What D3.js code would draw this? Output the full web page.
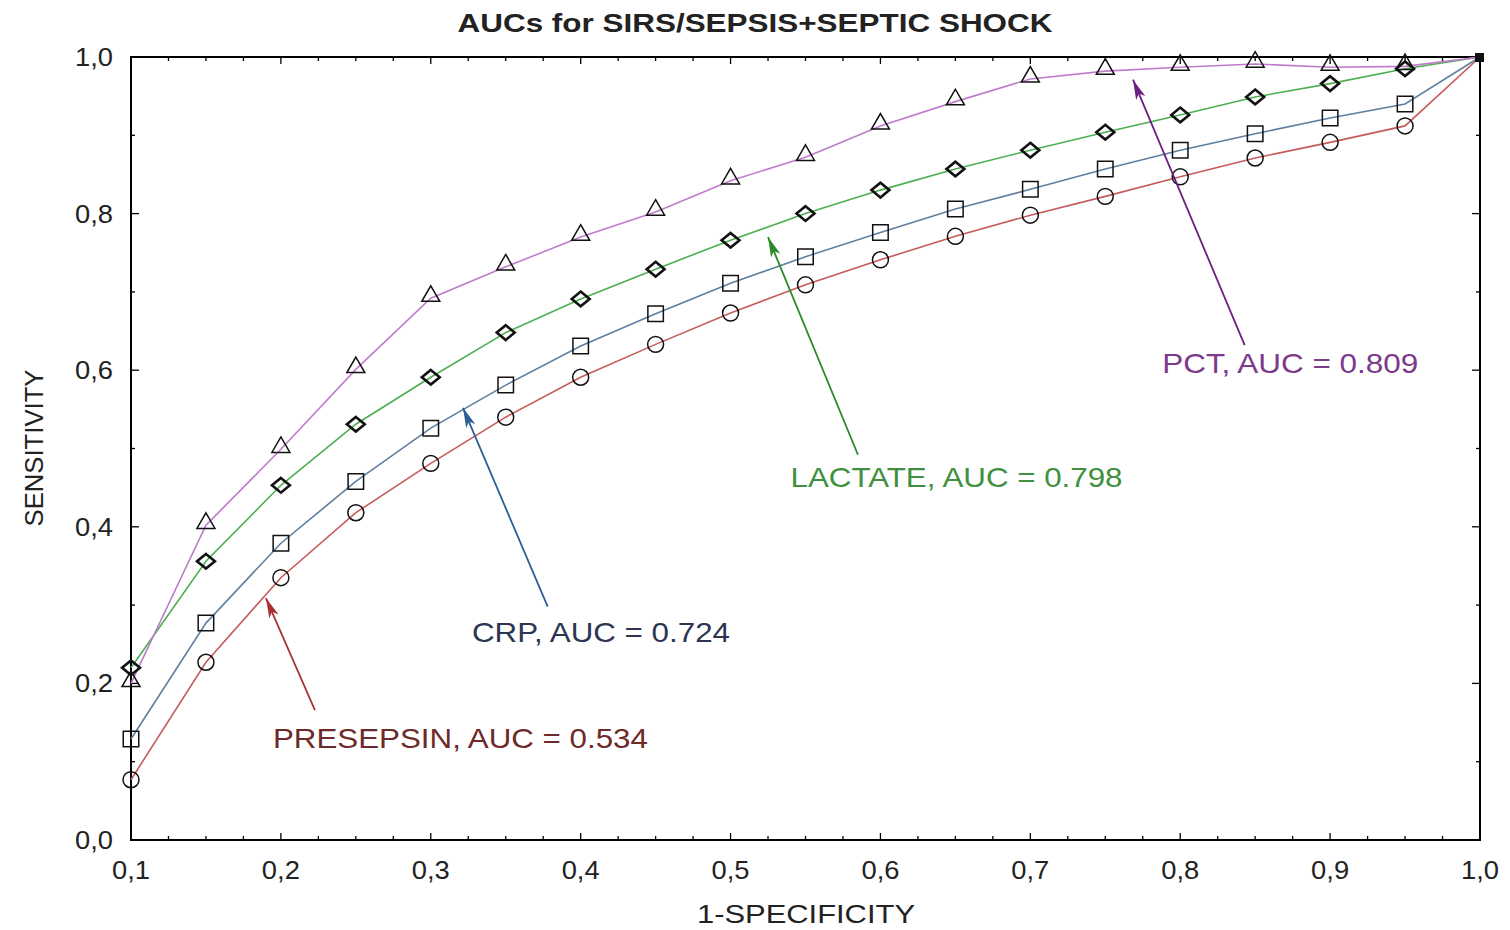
<!DOCTYPE html>
<html>
<head>
<meta charset="utf-8">
<script src="https://cdn.jsdelivr.net/npm/d3@7"></script>
<style>
  body { margin: 0; background: #fff; }
  text { font-family: Arial, "Liberation Sans", sans-serif; }
</style>
</head>
<body>
<div id="chart"></div>
<script>
// 1-specificity values (x)
var fpr = [0.1, 0.15, 0.2, 0.25, 0.3, 0.35, 0.4, 0.45, 0.5, 0.55, 0.6, 0.65, 0.7, 0.75, 0.8, 0.85, 0.9, 0.95, 1.0];

// sensitivity per marker (y)
var pct       = [0.200, 0.402, 0.499, 0.601, 0.692, 0.732, 0.770, 0.802, 0.842, 0.872, 0.912, 0.943, 0.972, 0.982, 0.987, 0.991, 0.987, 0.988, 1.0];
var lactate   = [0.220, 0.356, 0.453, 0.531, 0.591, 0.648, 0.691, 0.729, 0.766, 0.800, 0.830, 0.857, 0.881, 0.904, 0.926, 0.949, 0.966, 0.985, 1.0];
var crp       = [0.129, 0.277, 0.379, 0.458, 0.526, 0.581, 0.631, 0.672, 0.711, 0.745, 0.776, 0.806, 0.831, 0.857, 0.881, 0.902, 0.922, 0.940, 1.0];
var presepsin = [0.077, 0.227, 0.335, 0.418, 0.481, 0.540, 0.591, 0.633, 0.673, 0.709, 0.741, 0.771, 0.798, 0.822, 0.847, 0.871, 0.891, 0.912, 1.0];

var xTicks = [0.1, 0.2, 0.3, 0.4, 0.5, 0.6, 0.7, 0.8, 0.9, 1.0];
var yTicks = [0, 0.2, 0.4, 0.6, 0.8, 1.0];

// labels: text, label anchor [x,y], arrow tail [x,y], arrow tip [x,y] in data units
var labelText = ["PCT, AUC = 0.809", "LACTATE, AUC = 0.798", "CRP, AUC = 0.724", "PRESEPSIN, AUC = 0.534"];
var labelPos  = [[0.788, 0.596], [0.540, 0.451], [0.3275, 0.253], [0.1947, 0.1175]];
var arrowFrom = [[0.843, 0.632], [0.585, 0.492], [0.378, 0.298], [0.2227, 0.166]];
var arrowTo   = [[0.7685, 0.971], [0.525, 0.770], [0.3215, 0.552], [0.190, 0.309]];

var W = 1510, H = 930;
var margin = {top: 57, right: 30, bottom: 90, left: 131};

var x = d3.scaleLinear().domain([0.1, 1.0]).range([margin.left, 1480]);
var y = d3.scaleLinear().domain([0, 1]).range([840, margin.top]);

var svg = d3.select("#chart").append("svg")
    .attr("width", W)
    .attr("height", H);

// series setup
var series = [
  {name: "presepsin", values: presepsin, line: "#c55b5b", shape: "circle"},
  {name: "crp", values: crp, line: "#5f7f9f", shape: "square"},
  {name: "lactate", values: lactate, line: "#4caf50", shape: "diamond"},
  {name: "pct", values: pct, line: "#c07ccc", shape: "triangle"}
];
var labelColor = ["#7d3a8c", "#3f9140", "#2c3552", "#6e2a2a"];
var arrowColor = ["#6c2080", "#2a8a2a", "#2d5d96", "#a8302f"];
// the source picture is a bit stretched sideways, so texts get a fixed width
var labelWidth = [256, 332, 258, 375];

// frame
svg.append("rect")
    .attr("x", x(0.1)).attr("y", y(1))
    .attr("width", x(1) - x(0.1)).attr("height", y(0) - y(1))
    .attr("fill", "#fff").attr("stroke", "#000").attr("stroke-width", 2);

// inward ticks, all four sides
var xMinor = d3.range(0.1, 1.0001, 0.025);
var yMinor = d3.range(0, 1.0001, 0.1);
var tickG = svg.append("g").attr("stroke", "#000").attr("stroke-width", 1.3);
xMinor.forEach(function(v, i) {
  var len = (i % 4 === 0) ? 7 : 4;
  tickG.append("line").attr("x1", x(v)).attr("x2", x(v)).attr("y1", y(0)).attr("y2", y(0) - len);
  tickG.append("line").attr("x1", x(v)).attr("x2", x(v)).attr("y1", y(1)).attr("y2", y(1) + len);
});
yMinor.forEach(function(v, i) {
  var len = (i % 2 === 0) ? 8 : 4;
  tickG.append("line").attr("x1", x(0.1)).attr("x2", x(0.1) + len).attr("y1", y(v)).attr("y2", y(v));
  tickG.append("line").attr("x1", x(1)).attr("x2", x(1) - len).attr("y1", y(v)).attr("y2", y(v));
});

var fmt = function(v) { return d3.format(".1f")(v).replace(".", ","); };

// tick labels
svg.append("g").selectAll("text")
    .data(xTicks).enter().append("text")
    .attr("x", function(d) { return x(d); })
    .attr("y", 879)
    .attr("text-anchor", "middle")
    .attr("font-size", 26)
    .attr("textLength", 38).attr("lengthAdjust", "spacingAndGlyphs")
    .attr("fill", "#222")
    .text(fmt);

svg.append("g").selectAll("text")
    .data(yTicks).enter().append("text")
    .attr("x", 113)
    .attr("y", function(d) { return y(d) + 9; })
    .attr("text-anchor", "end")
    .attr("font-size", 26)
    .attr("textLength", 38).attr("lengthAdjust", "spacingAndGlyphs")
    .attr("fill", "#222")
    .text(fmt);

// title and axis titles
svg.append("text")
    .attr("x", 755).attr("y", 32)
    .attr("text-anchor", "middle")
    .attr("font-size", 26).attr("font-weight", "bold")
    .attr("textLength", 595).attr("lengthAdjust", "spacingAndGlyphs")
    .attr("fill", "#222")
    .text("AUCs for SIRS/SEPSIS+SEPTIC SHOCK");

svg.append("text")
    .attr("x", 806).attr("y", 923)
    .attr("text-anchor", "middle")
    .attr("font-size", 26)
    .attr("textLength", 218).attr("lengthAdjust", "spacingAndGlyphs")
    .attr("fill", "#222")
    .text("1-SPECIFICITY");

svg.append("text")
    .attr("transform", "translate(43,448) rotate(-90)")
    .attr("text-anchor", "middle")
    .attr("font-size", 26)
    .attr("textLength", 157).attr("lengthAdjust", "spacingAndGlyphs")
    .attr("fill", "#222")
    .text("SENSITIVITY");

// lines
var line = d3.line()
    .x(function(d, i) { return x(fpr[i]); })
    .y(function(d) { return y(d); });

series.forEach(function(s) {
  svg.append("path")
      .datum(s.values)
      .attr("fill", "none")
      .attr("stroke", s.line)
      .attr("stroke-width", 1.6)
      .attr("d", line);
});

// flatter diamond than d3's built-in one
var flatDiamond = {
  draw: function(ctx, size) {
    var w = Math.sqrt(size) / 2, h = w * 0.82;
    ctx.moveTo(0, -h); ctx.lineTo(w, 0); ctx.lineTo(0, h); ctx.lineTo(-w, 0); ctx.closePath();
  }
};

var symbols = {
  circle: d3.symbol().type(d3.symbolCircle).size(200),
  square: d3.symbol().type(d3.symbolSquare).size(240),
  diamond: d3.symbol().type(flatDiamond).size(320),
  triangle: d3.symbol().type(d3.symbolTriangle).size(140)
};

// markers (last common point drawn as small solid square)
series.forEach(function(s) {
  svg.append("g").selectAll("path")
      .data(s.values.slice(0, -1))
      .enter().append("path")
      .attr("transform", function(d, i) {
        var dy = s.shape === "triangle" ? -2 : 0;
        return "translate(" + x(fpr[i]) + "," + (y(d) + dy) + ")";
      })
      .attr("d", symbols[s.shape])
      .attr("fill", "none")
      .attr("stroke", "#111")
      .attr("stroke-width", s.shape === "diamond" ? 2.6 : 1.5);
});

var last = fpr.length - 1;
svg.append("rect")
    .attr("x", x(fpr[last]) - 5).attr("y", y(pct[last]) - 4)
    .attr("width", 9).attr("height", 9)
    .attr("fill", "#111");

// arrows and labels
var defs = svg.append("defs");
arrowColor.forEach(function(c, i) {
  defs.append("marker")
      .attr("id", "arr" + i)
      .attr("viewBox", "0 0 20 10")
      .attr("refX", 20).attr("refY", 5)
      .attr("markerWidth", 20).attr("markerHeight", 10)
      .attr("markerUnits", "userSpaceOnUse")
      .attr("orient", "auto")
      .append("path")
      .attr("d", "M0,0 L20,5 L0,10 L5,5 Z")
      .attr("fill", c);
});

labelText.forEach(function(t, i) {
  svg.append("line")
      .attr("x1", x(arrowFrom[i][0])).attr("y1", y(arrowFrom[i][1]))
      .attr("x2", x(arrowTo[i][0])).attr("y2", y(arrowTo[i][1]))
      .attr("stroke", arrowColor[i])
      .attr("stroke-width", 1.8)
      .attr("marker-end", "url(#arr" + i + ")");

  svg.append("text")
      .attr("x", x(labelPos[i][0]))
      .attr("y", y(labelPos[i][1]))
      .attr("font-size", 28)
      .attr("textLength", labelWidth[i]).attr("lengthAdjust", "spacingAndGlyphs")
      .attr("fill", labelColor[i])
      .text(t);
});
</script>
</body>
</html>
